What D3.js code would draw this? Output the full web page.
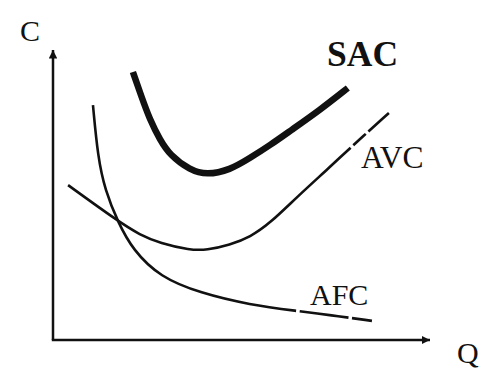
<!DOCTYPE html>
<html>
<head>
<meta charset="utf-8">
<script src="https://cdn.jsdelivr.net/npm/d3@7"></script>
<style>
  html, body { margin: 0; padding: 0; background: #fff; }
  svg text { font-family: "Liberation Serif", "Times New Roman", serif; fill: #111; }
</style>
</head>
<body>
<div id="chart"></div>
<script>
// Curve data (Q, C)
const sacQ = [2.12, 2.33, 2.57, 2.84, 3.10, 3.63, 4.08, 4.69, 5.23, 5.76, 6.29, 7.08, 7.82];
const sacC = [9.24, 8.45, 7.59, 6.90, 6.38, 5.86, 5.69, 5.86, 6.28, 6.72, 7.21, 7.93, 8.69];

const avcQ = [0.40, 1.72, 2.31, 2.84, 3.63, 4.08, 4.69, 5.23, 5.76, 6.47, 7.35, 7.88, 8.91];
const avcC = [5.34, 4.10, 3.62, 3.34, 3.10, 3.10, 3.28, 3.55, 4.03, 4.93, 5.97, 6.62, 7.83];

const afcQ = [1.06, 1.19, 1.38, 1.72, 2.12, 2.84, 3.90, 5.23, 6.47, 7.35, 8.46];
const afcC = [8.10, 6.31, 5.17, 4.07, 3.10, 2.17, 1.62, 1.21, 1.00, 0.86, 0.66];

// small breaks in the thin curves (Q positions)
const avcGaps = [7.93, 8.33];
const afcGaps = [6.49, 7.88];

const width = 500;
const height = 388;

const svg = d3.select('#chart')
  .append('svg')
  .attr('width', width)
  .attr('height', height);

const x = d3.scaleLinear().domain([0, 10]).range([53, 430]);
const y = d3.scaleLinear().domain([0, 10]).range([340, 50]);

// arrow marker
svg.append('defs').append('marker')
  .attr('id', 'arrow')
  .attr('viewBox', '0 0 10 10')
  .attr('refX', 10)
  .attr('refY', 5)
  .attr('markerWidth', 3.4)
  .attr('markerHeight', 3.4)
  .attr('orient', 'auto')
  .attr('markerUnits', 'strokeWidth')
  .append('path')
  .attr('d', 'M0,0 L10,5 L0,10 Z')
  .attr('fill', '#111');

// Axes
svg.append('line')
  .attr('x1', x(0)).attr('y1', y(0))
  .attr('x2', x(0)).attr('y2', y(10))
  .attr('stroke', '#111').attr('stroke-width', 2.5)
  .attr('marker-end', 'url(#arrow)');

svg.append('line')
  .attr('x1', x(0) - 1.2).attr('y1', y(0))
  .attr('x2', x(10)).attr('y2', y(0))
  .attr('stroke', '#111').attr('stroke-width', 2.5)
  .attr('marker-end', 'url(#arrow)');

const line = d3.line()
  .x((d) => x(d[0]))
  .y((d) => y(d[1]))
  .curve(d3.curveBasis);

function drawCurve(qs, cs, w, gaps) {
  const pts = qs.map((q, i) => [q, cs[i]]);
  const path = svg.append('path')
    .datum(pts)
    .attr('d', line)
    .attr('fill', 'none')
    .attr('stroke', '#111')
    .attr('stroke-width', w)
    .attr('stroke-linecap', 'butt');

  if (gaps && gaps.length) {
    const node = path.node();
    const total = node.getTotalLength();
    // find length along path where x reaches gap position
    const lens = gaps.map((g) => {
      const px = x(g);
      let lo = 0, hi = total;
      for (let k = 0; k < 40; k++) {
        const mid = (lo + hi) / 2;
        if (node.getPointAtLength(mid).x < px) lo = mid; else hi = mid;
      }
      return lo;
    });
    const gapLen = 3.5;
    const dash = [];
    let prev = 0;
    lens.forEach((l) => {
      dash.push(l - gapLen / 2 - prev, gapLen);
      prev = l + gapLen / 2;
    });
    dash.push(total - prev + 10, 0);
    path.attr('stroke-dasharray', dash.join(' '));
  }
}

drawCurve(sacQ, sacC, 6.5);
drawCurve(avcQ, avcC, 2.6, avcGaps);
drawCurve(afcQ, afcC, 2.6, afcGaps);

// Labels
svg.append('text').attr('x', 20).attr('y', 41).attr('font-size', 30).text('C');
svg.append('text').attr('x', 457).attr('y', 363).attr('font-size', 30).text('Q');
svg.append('text').attr('x', 327).attr('y', 66).attr('font-size', 35.5).attr('font-weight', 'bold').text('SAC');
svg.append('text').attr('x', 361).attr('y', 168).attr('font-size', 31.5).text('AVC');
svg.append('text').attr('x', 310).attr('y', 305).attr('font-size', 30).text('AFC');
</script>
</body>
</html>
